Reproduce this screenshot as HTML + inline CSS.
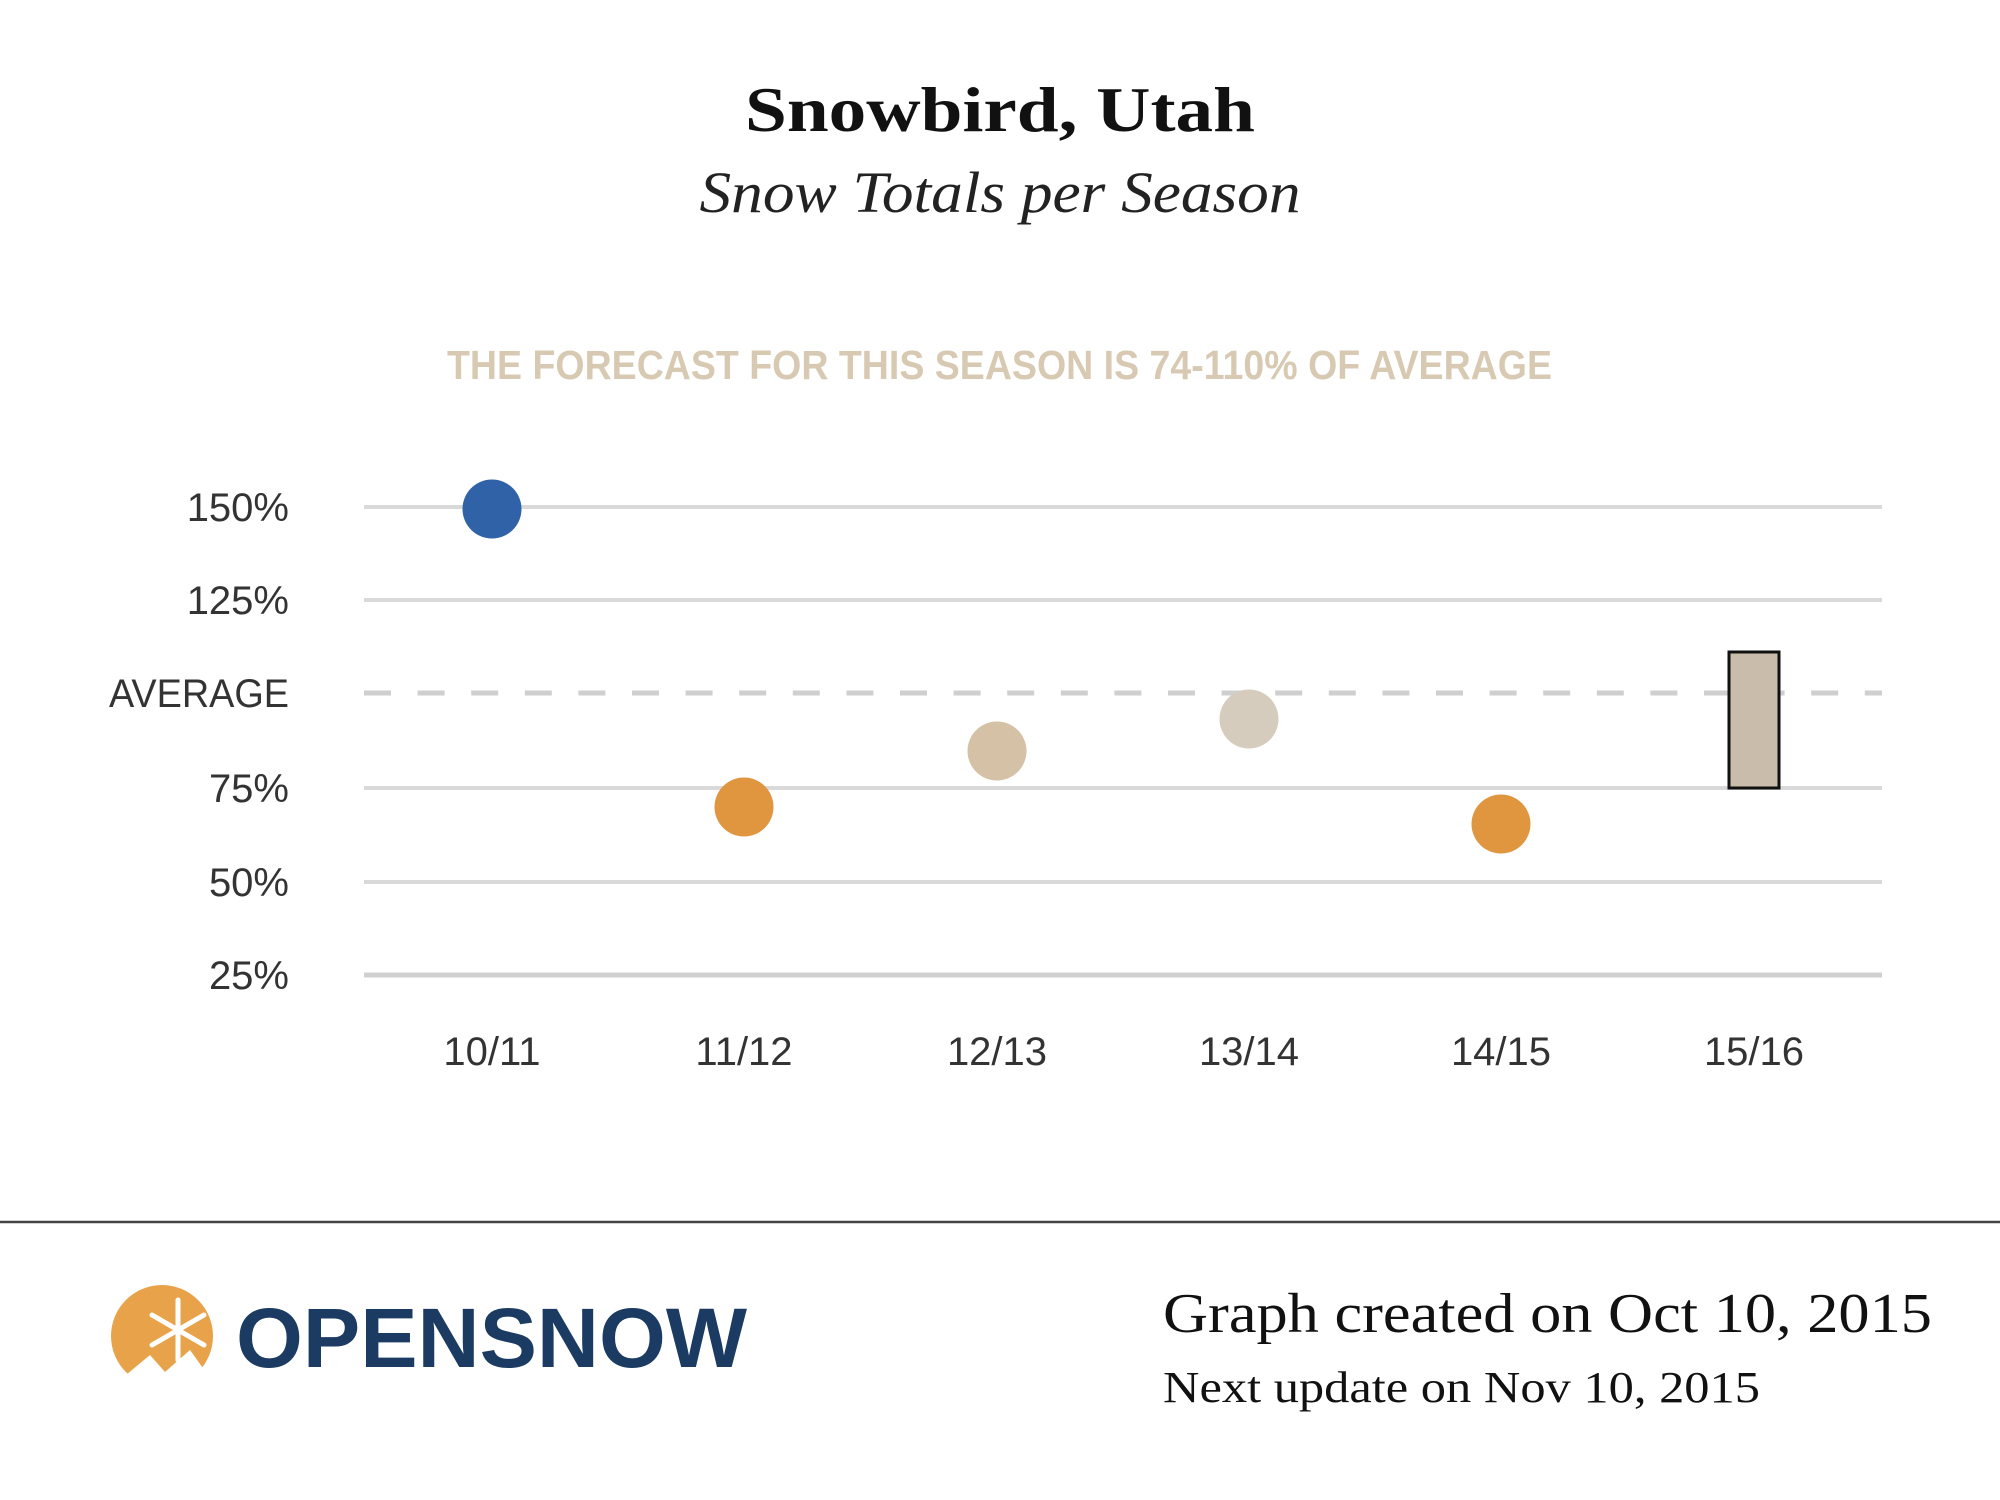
<!DOCTYPE html>
<html><head><meta charset="utf-8"><style>
html,body{margin:0;padding:0;background:#fff;}
svg{display:block;}
</style></head><body>
<svg width="2000" height="1500" viewBox="0 0 2000 1500" xmlns="http://www.w3.org/2000/svg">
<rect width="2000" height="1500" fill="#fff"/>
<text x="1000" y="131" text-anchor="middle" font-family="Liberation Serif, serif" font-weight="bold" font-size="64" fill="#111" textLength="510" lengthAdjust="spacingAndGlyphs">Snowbird, Utah</text>
<text x="1000" y="212" text-anchor="middle" font-family="Liberation Serif, serif" font-style="italic" font-size="58" fill="#222" textLength="601" lengthAdjust="spacingAndGlyphs">Snow Totals per Season</text>
<text x="447" y="379" font-family="Liberation Sans, sans-serif" font-weight="bold" font-size="41" fill="#d8cab2" textLength="1105" lengthAdjust="spacingAndGlyphs">THE FORECAST FOR THIS SEASON IS 74-110% OF AVERAGE</text>
<g stroke="#d9d9d9" stroke-width="4">
<line x1="364" y1="507" x2="1882" y2="507"/>
<line x1="364" y1="600" x2="1882" y2="600"/>
<line x1="364" y1="788" x2="1882" y2="788"/>
<line x1="364" y1="882" x2="1882" y2="882"/>
<line x1="364" y1="975" x2="1882" y2="975" stroke-width="5" stroke="#d0d0d0"/>
</g>
<line x1="364" y1="693" x2="1882" y2="693" stroke="#cfcfcf" stroke-width="5" stroke-dasharray="27 26.6"/>
<g font-family="Liberation Sans, sans-serif" font-size="40" fill="#333" text-anchor="end">
<text x="289" y="521">150%</text>
<text x="289" y="614">125%</text>
<text x="289" y="707" textLength="180" lengthAdjust="spacingAndGlyphs">AVERAGE</text>
<text x="289" y="802">75%</text>
<text x="289" y="896">50%</text>
<text x="289" y="989">25%</text>
</g>
<g font-family="Liberation Sans, sans-serif" font-size="40" fill="#333" text-anchor="middle">
<text x="492" y="1065">10/11</text>
<text x="744" y="1065">11/12</text>
<text x="997" y="1065">12/13</text>
<text x="1249" y="1065">13/14</text>
<text x="1501" y="1065">14/15</text>
<text x="1754" y="1065">15/16</text>
</g>
<circle cx="492" cy="509" r="29.5" fill="#2f62a6"/>
<circle cx="744" cy="807" r="29.5" fill="#e0963f"/>
<circle cx="997" cy="751" r="29.5" fill="#d5c1a6"/>
<circle cx="1249" cy="719" r="29.5" fill="#d6ccbd"/>
<circle cx="1501" cy="824" r="29.5" fill="#e0963f"/>
<rect x="1729" y="652" width="50" height="136" fill="#c9bcaa" stroke="#111" stroke-width="3"/>
<line x1="0" y1="1222" x2="2000" y2="1222" stroke="#444" stroke-width="2.5"/>
<circle cx="162" cy="1336" r="51" fill="#e8a34a"/>
<g stroke="#fff" stroke-width="5" fill="none" stroke-linecap="round">
<line x1="178" y1="1300" x2="178" y2="1360"/>
<line x1="152" y1="1315" x2="204" y2="1345"/>
<line x1="152" y1="1345" x2="204" y2="1315"/>
</g>
<path d="M120 1380 L150 1355 L165 1372 L190 1350 L215 1385 L110 1390Z" fill="#fff"/>
<text x="236" y="1367" font-family="Liberation Sans, sans-serif" font-weight="bold" font-size="84" fill="#1b3b62" textLength="511" lengthAdjust="spacingAndGlyphs">OPENSNOW</text>
<text x="1163" y="1332" font-family="Liberation Serif, serif" font-size="56" fill="#111" textLength="769" lengthAdjust="spacingAndGlyphs">Graph created on Oct 10, 2015</text>
<text x="1163" y="1402" font-family="Liberation Serif, serif" font-size="44" fill="#111" textLength="597" lengthAdjust="spacingAndGlyphs">Next update on Nov 10, 2015</text>
</svg>
</body></html>
